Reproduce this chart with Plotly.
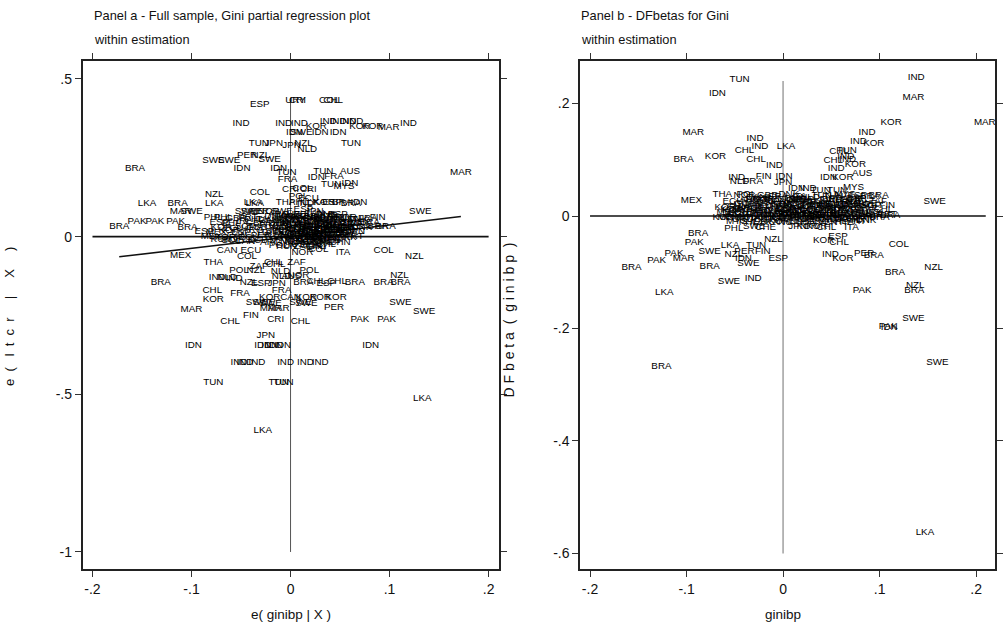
import numpy as np
import plotly.graph_objects as go

SANS = "Liberation Sans Narrow, Arial Narrow, Liberation Sans, Arial, sans-serif"

# ---------------- Panel a : partial regression plot (e(ltcr|X) vs e(ginibp|X)) -------------
a_top = [
    ("ESP", -0.031, 0.418), ("URY", 0.005, 0.430), ("CRI", 0.007, 0.430), ("COL", 0.039, 0.430),
    ("CHL", 0.043, 0.430), ("IND", -0.050, 0.360), ("IND", -0.007, 0.360), ("IND", 0.009, 0.360),
    ("KOR", 0.026, 0.348), ("IND", 0.038, 0.364), ("IND", 0.048, 0.364), ("IND", 0.058, 0.364),
    ("IND", 0.065, 0.364), ("KOR", 0.070, 0.348), ("KOR", 0.083, 0.348), ("MAR", 0.099, 0.345),
    ("IND", 0.119, 0.360), ("IDN", 0.004, 0.329), ("SWE", 0.011, 0.329), ("IDN", 0.030, 0.329),
    ("IDN", 0.048, 0.329), ("TUN", -0.032, 0.294), ("JPN", -0.017, 0.294), ("JPN", 0.001, 0.288),
    ("NZL", 0.013, 0.294), ("NLD", 0.017, 0.275), ("TUN", 0.061, 0.294),
]
a_upper = [
    ("BRA", -0.157, 0.215), ("SWE", -0.078, 0.240), ("SWE", -0.062, 0.240), ("PER", -0.044, 0.256),
    ("NZL", -0.030, 0.256), ("SWE", -0.021, 0.243), ("IDN", -0.049, 0.215), ("IDN", -0.012, 0.215),
    ("TUN", -0.004, 0.202), ("FRA", -0.003, 0.180), ("TUN", 0.033, 0.205), ("AUS", 0.060, 0.205),
    ("IDN", 0.026, 0.186), ("FRA", 0.044, 0.192), ("TUN", 0.041, 0.164), ("MYS", 0.054, 0.158),
    ("IDN", 0.060, 0.167), ("MAR", 0.172, 0.202), ("CRI", 0.000, 0.148), ("COL", 0.012, 0.154),
    ("CRI", 0.018, 0.148), ("COL", -0.031, 0.139), ("NZL", -0.077, 0.135), ("LKA", -0.077, 0.104),
    ("POL", 0.008, 0.126), ("ECU", 0.018, 0.120), ("LKA", -0.145, 0.104), ("BRA", -0.114, 0.104),
    ("MAR", -0.111, 0.081), ("SWE", -0.100, 0.081), ("LKA", -0.038, 0.107), ("LKA", -0.036, 0.104),
    ("SWE", -0.045, 0.081), ("SWE", -0.039, 0.081), ("PER", -0.032, 0.078), ("NOR", -0.022, 0.078),
    ("SWE", -0.009, 0.078), ("THA", -0.005, 0.107), ("PHL", 0.008, 0.107), ("IND", 0.015, 0.104),
    ("LKA", 0.026, 0.107), ("KOR", 0.034, 0.107), ("ESP", 0.042, 0.107), ("BRA", 0.052, 0.107),
    ("BRA", 0.061, 0.104), ("IDN", 0.069, 0.107), ("JPN", 0.024, 0.078), ("ESP", 0.013, 0.085),
    ("SWE", 0.131, 0.081), ("FIN", 0.088, 0.059), ("BRA", -0.173, 0.031), ("PAK", -0.155, 0.047),
    ("PAK", -0.137, 0.047), ("PAK", -0.116, 0.047), ("BRA", -0.104, 0.028), ("PHL", -0.078, 0.059),
    ("PHL", -0.037, 0.053), ("BRA", 0.088, 0.031), ("BRA", 0.096, 0.031), ("PRT", 0.064, 0.000),
]
a_core = [
    ("PHL", -0.068, 0.060), ("GBR", -0.055, 0.058), ("PRT", -0.043, 0.062), ("ITA", -0.030, 0.055),
    ("DNK", -0.016, 0.065), ("USA", -0.004, 0.060), ("HKG", 0.006, 0.063), ("SGP", 0.016, 0.057),
    ("NLD", 0.026, 0.061), ("AUT", 0.036, 0.066), ("BEL", 0.046, 0.059), ("NOR", 0.056, 0.062),
    ("DNK", 0.068, 0.055), ("FRA", 0.078, 0.058),
    ("ESP", -0.072, 0.045), ("PHL", -0.060, 0.040), ("IRL", -0.047, 0.048), ("GBR", -0.035, 0.043),
    ("CAN", -0.022, 0.050), ("FIN", -0.010, 0.046), ("JPN", -0.001, 0.042), ("AUS", 0.009, 0.049),
    ("USA", 0.018, 0.044), ("DEU", 0.027, 0.047), ("BEL", 0.035, 0.041), ("ITA", 0.044, 0.050),
    ("NZL", 0.053, 0.043), ("SWE", 0.062, 0.046), ("DNK", 0.071, 0.041), ("BRA", 0.080, 0.044),
    ("KOR", -0.070, 0.030), ("ECU", -0.058, 0.026), ("SGP", -0.046, 0.033), ("GBR", -0.034, 0.028),
    ("FRA", -0.022, 0.035), ("NLD", -0.012, 0.031), ("AUT", -0.003, 0.027), ("CAN", 0.005, 0.034),
    ("ESP", 0.013, 0.029), ("JPN", 0.021, 0.032), ("USA", 0.029, 0.026), ("IRL", 0.037, 0.035),
    ("PRT", 0.045, 0.030), ("NOR", 0.054, 0.028), ("HKG", 0.063, 0.033), ("DNK", 0.072, 0.029),
    ("MEX", -0.075, 0.012), ("KOR", -0.062, 0.018), ("ESP", -0.050, 0.014), ("ARG", -0.038, 0.020),
    ("ITA", -0.026, 0.013), ("BEL", -0.016, 0.017), ("DEU", -0.006, 0.012), ("FIN", 0.002, 0.019),
    ("AUS", 0.010, 0.015), ("NLD", 0.018, 0.020), ("GBR", 0.026, 0.013), ("FRA", 0.034, 0.018),
    ("CAN", 0.042, 0.014), ("SWE", 0.050, 0.019), ("USA", 0.058, 0.012), ("JPN", 0.066, 0.016),
    ("KOR", -0.066, -0.002), ("CAN", -0.054, 0.003), ("ECU", -0.042, -0.004), ("PER", -0.030, 0.002),
    ("THA", -0.018, -0.003), ("CHL", -0.008, 0.004), ("MYS", 0.001, -0.001), ("IDN", 0.009, 0.003),
    ("AUS", 0.017, -0.004), ("NOR", 0.025, 0.001), ("DNK", 0.033, -0.002), ("ITA", 0.041, 0.004),
    ("KOR", 0.049, -0.003),
    ("COL", -0.060, -0.012), ("CAN", -0.046, -0.016), ("ECU", -0.033, -0.011), ("ARG", -0.020, -0.018),
    ("MAR", -0.010, -0.013), ("NGA", 0.000, -0.017), ("HKG", 0.008, -0.010), ("SGP", 0.016, -0.015),
    ("ISR", 0.024, -0.012), ("GRC", 0.032, -0.018), ("VEN", 0.040, -0.014),
    ("POL", -0.012, -0.027), ("HUN", -0.004, -0.031), ("AUS", 0.004, -0.025), ("ZAF", 0.012, -0.030),
    ("CHN", 0.020, -0.028), ("URY", 0.028, -0.032), ("CHL", 0.036, -0.026),
    ("NZL", 0.003, 0.052), ("ITA", 0.011, 0.038), ("FRA", 0.019, 0.024), ("GBR", 0.027, 0.010),
    ("USA", 0.035, 0.055), ("BEL", 0.043, 0.020), ("NOR", 0.000, 0.008), ("JPN", 0.014, 0.000),
    ("AUS", 0.030, 0.042), ("DNK", 0.046, 0.035), ("CAN", 0.022, 0.057), ("ESP", 0.008, 0.025),
    ("FIN", 0.038, 0.005), ("SWE", 0.052, 0.028), ("IRL", -0.006, 0.038), ("NLD", 0.018, 0.012),
    ("KOR", 0.026, -0.008), ("CHL", 0.040, -0.012), ("MEX", 0.005, -0.015), ("PRT", 0.033, 0.022),
]
a_core2 = [
    ("ARG", -0.012, 0.070), ("AUS", 0.000, 0.071), ("BEL", 0.012, 0.069), ("CAN", 0.024, 0.072),
    ("DNK", 0.036, 0.070), ("ESP", 0.048, 0.071),
    ("FIN", -0.008, 0.063), ("FRA", 0.004, 0.061), ("GBR", 0.016, 0.064), ("IRL", 0.028, 0.062),
    ("ITA", 0.040, 0.063), ("JPN", 0.052, 0.061),
    ("NLD", -0.014, 0.052), ("NOR", -0.002, 0.053), ("NZL", 0.010, 0.051), ("PRT", 0.022, 0.052),
    ("SWE", 0.034, 0.054), ("USA", 0.046, 0.051), ("AUT", 0.058, 0.053),
    ("DEU", -0.012, 0.040), ("HKG", 0.024, 0.039), ("SGP", 0.036, 0.041), ("ISR", 0.048, 0.039),
    ("GRC", 0.060, 0.040),
    ("KOR", -0.008, 0.030), ("MYS", 0.009, 0.031), ("THA", 0.017, 0.029), ("PHL", 0.033, 0.030),
    ("IDN", 0.041, 0.031), ("CHL", 0.058, 0.029),
    ("MEX", -0.010, 0.020), ("COL", 0.006, 0.021), ("ECU", 0.022, 0.019), ("PER", 0.030, 0.021),
    ("URY", 0.046, 0.020), ("VEN", 0.054, 0.019),
    ("ZAF", -0.004, 0.008), ("NGA", 0.010, 0.007), ("GHA", 0.021, 0.009), ("TUN", 0.034, 0.008),
    ("MAR", 0.045, 0.007), ("EGY", 0.055, 0.009),
    ("POL", 0.005, -0.005), ("HUN", 0.020, -0.004), ("CZE", 0.030, -0.006), ("IND", 0.045, -0.005),
    ("PAK", 0.057, -0.004),
    ("LKA", 0.010, -0.018), ("BRA", 0.022, -0.019), ("CRI", 0.032, -0.017), ("CHN", 0.050, -0.018),
]
a_lower = [
    ("MEX", -0.111, -0.061), ("KOR", -0.070, -0.010), ("KOR", -0.057, -0.010), ("MEX", -0.080, 0.000),
    ("ESP", -0.087, 0.015), ("CAN", -0.064, -0.045), ("ECU", -0.040, -0.045), ("THA", -0.078, -0.083),
    ("COL", -0.044, -0.064), ("ZAF", -0.032, -0.096), ("CHL", -0.017, -0.083), ("CHL", -0.015, -0.087),
    ("ZAF", 0.006, -0.083), ("NOR", 0.012, -0.052), ("CHL", 0.025, -0.033), ("COL", 0.028, -0.042),
    ("ITA", 0.053, -0.049), ("COL", 0.094, -0.045), ("NZL", 0.125, -0.064), ("POL", -0.052, -0.109),
    ("NZL", -0.035, -0.109), ("NLD", -0.010, -0.112), ("POL", 0.019, -0.106), ("IND", -0.074, -0.131),
    ("NLD", -0.064, -0.131), ("IND", -0.057, -0.134), ("NZL", -0.042, -0.147), ("ESP", -0.030, -0.150),
    ("JPN", -0.014, -0.150), ("NLD", -0.009, -0.128), ("AUS", 0.001, -0.128), ("NOR", 0.008, -0.122),
    ("BRA", 0.013, -0.147), ("CHL", 0.026, -0.144), ("ESP", 0.036, -0.150), ("CHL", 0.047, -0.141),
    ("BRA", 0.065, -0.147), ("BRA", 0.094, -0.147), ("BRA", 0.111, -0.147), ("NZL", 0.110, -0.125),
    ("BRA", -0.131, -0.147), ("CHL", -0.079, -0.172), ("KOR", -0.078, -0.198), ("FRA", -0.051, -0.179),
    ("FRA", -0.009, -0.172), ("KOR", -0.021, -0.194), ("CAN", 0.000, -0.194), ("KOR", 0.016, -0.194),
    ("KOR", 0.030, -0.194), ("KOR", 0.046, -0.194), ("SWE", -0.034, -0.210), ("SWE", -0.027, -0.210),
    ("SWE", -0.020, -0.213), ("SWE", 0.010, -0.210), ("SWE", 0.016, -0.213), ("MAR", -0.020, -0.229),
    ("MAR", -0.012, -0.229), ("MAR", -0.100, -0.232), ("PER", 0.044, -0.226), ("SWE", 0.111, -0.210),
    ("SWE", 0.135, -0.239), ("PAK", 0.070, -0.264), ("PAK", 0.097, -0.264), ("CHL", -0.061, -0.270),
    ("FIN", -0.040, -0.251), ("CRI", -0.015, -0.264), ("CHL", 0.010, -0.270), ("JPN", -0.025, -0.315),
    ("IDN", -0.098, -0.347), ("IDN", -0.028, -0.347), ("IDN", -0.021, -0.347), ("IDN", -0.016, -0.347),
    ("IDN", -0.008, -0.347), ("IDN", 0.081, -0.347), ("IND", -0.052, -0.398), ("IND", -0.046, -0.398),
    ("IND", -0.034, -0.398), ("IND", -0.005, -0.398), ("IND", 0.015, -0.398), ("IND", 0.030, -0.398),
    ("TUN", -0.078, -0.464), ("TUN", -0.012, -0.464), ("TUN", -0.007, -0.464), ("LKA", 0.133, -0.515),
    ("LKA", -0.028, -0.616),
]
a_slope = 0.37   # fitted partial-regression slope

# ---------------- Panel b : DFbetas for Gini vs ginibp ----------------
b_outer = [
    ("TUN", -0.045, 0.242), ("IDN", -0.068, 0.217), ("IND", 0.138, 0.247), ("MAR", 0.135, 0.210),
    ("KOR", 0.112, 0.167), ("MAR", 0.209, 0.167), ("MAR", -0.093, 0.148), ("IND", -0.029, 0.137),
    ("IND", -0.024, 0.123), ("LKA", 0.003, 0.123), ("CHL", -0.040, 0.116), ("CHL", -0.028, 0.100),
    ("IND", -0.009, 0.089), ("BRA", -0.103, 0.100), ("KOR", -0.070, 0.105), ("IND", 0.087, 0.148),
    ("IND", 0.078, 0.133), ("KOR", 0.094, 0.128), ("CHL", 0.058, 0.114), ("TUN", 0.066, 0.117),
    ("IND", 0.065, 0.105), ("CHL", 0.052, 0.098), ("IND", 0.067, 0.101), ("KOR", 0.075, 0.092),
    ("IND", 0.055, 0.084), ("AUS", 0.082, 0.075), ("IDN", 0.047, 0.068), ("KOR", 0.062, 0.068),
    ("IND", -0.048, 0.068), ("FIN", -0.020, 0.071), ("IDN", 0.001, 0.071), ("NLD", -0.045, 0.062),
    ("FRA", -0.031, 0.062), ("JPN", 0.000, 0.059), ("MEX", -0.095, 0.027), ("THA", -0.063, 0.039),
    ("POL", -0.038, 0.039), ("SWE", 0.157, 0.025), ("FIN", 0.108, 0.018), ("BRA", 0.099, 0.036),
    ("BRA", 0.111, 0.000), ("IDN", 0.014, 0.049), ("IND", 0.026, 0.048), ("TUN", 0.039, 0.046),
    ("TUN", 0.056, 0.046), ("MYS", 0.073, 0.051), ("ESP", 0.077, 0.036),
]
b_lower = [
    ("PHL", -0.051, -0.023), ("BRA", -0.088, -0.032), ("PAK", -0.092, -0.048), ("PAK", -0.113, -0.066),
    ("PAK", -0.131, -0.080), ("BRA", -0.157, -0.091), ("MAR", -0.103, -0.076), ("SWE", -0.076, -0.064),
    ("LKA", -0.055, -0.053), ("NZL", -0.051, -0.068), ("PER", -0.040, -0.064), ("TUN", -0.028, -0.053),
    ("FIN", -0.021, -0.064), ("IDN", -0.041, -0.075), ("SWE", -0.036, -0.085), ("BRA", -0.076, -0.089),
    ("ESP", -0.005, -0.076), ("NZL", -0.010, -0.041), ("SWE", -0.056, -0.117), ("IND", -0.031, -0.112),
    ("LKA", -0.123, -0.137), ("ITA", 0.071, -0.020), ("KOR", 0.042, -0.044), ("ESP", 0.057, -0.036),
    ("CHL", 0.058, -0.048), ("IND", 0.049, -0.068), ("KOR", 0.062, -0.075), ("PER", 0.084, -0.066),
    ("BRA", 0.094, -0.071), ("COL", 0.120, -0.050), ("BRA", 0.116, -0.101), ("NZL", 0.156, -0.092),
    ("NZL", 0.137, -0.123), ("BRA", 0.136, -0.132), ("PAK", 0.082, -0.133), ("SWE", 0.135, -0.183),
    ("PAK", 0.109, -0.196), ("IDN", 0.110, -0.199), ("SWE", 0.160, -0.261), ("BRA", -0.126, -0.268),
    ("LKA", 0.147, -0.562), ("KOR", -0.054, 0.012), ("MEX", -0.057, -0.002),
]
b_core = [
    ("NOR", -0.040, 0.036), ("CAN", -0.028, 0.033), ("GBR", -0.016, 0.037), ("FRA", -0.005, 0.034),
    ("DNK", 0.006, 0.038), ("ITA", 0.017, 0.035), ("NLD", 0.028, 0.032), ("TUN", 0.040, 0.037),
    ("TUN", 0.052, 0.034), ("MYS", 0.064, 0.038), ("ESP", 0.076, 0.031), ("BRA", 0.090, 0.034),
    ("ECU", -0.052, 0.025), ("COL", -0.040, 0.022), ("HKG", -0.028, 0.027), ("USA", -0.017, 0.024),
    ("JPN", -0.006, 0.026), ("AUS", 0.004, 0.023), ("DEU", 0.014, 0.027), ("SGP", 0.024, 0.024),
    ("BEL", 0.034, 0.026), ("IRL", 0.044, 0.022), ("AUT", 0.054, 0.027), ("PRT", 0.064, 0.024),
    ("NZL", 0.074, 0.026), ("SWE", 0.086, 0.022), ("ZAF", 0.098, 0.025),
    ("KOR", -0.060, 0.015), ("CHL", -0.048, 0.017), ("ARG", -0.037, 0.013), ("GBR", -0.026, 0.016),
    ("CAN", -0.016, 0.014), ("FIN", -0.006, 0.017), ("ESP", 0.003, 0.013), ("NLD", 0.012, 0.016),
    ("FRA", 0.021, 0.014), ("USA", 0.030, 0.017), ("ITA", 0.039, 0.013), ("DNK", 0.048, 0.016),
    ("NOR", 0.057, 0.014), ("JPN", 0.067, 0.017), ("KOR", 0.078, 0.013), ("PHL", 0.090, 0.015),
    ("CHL", 0.104, 0.012),
    ("MEX", -0.058, 0.006), ("ECU", -0.046, 0.004), ("PER", -0.035, 0.007), ("THA", -0.024, 0.005),
    ("MYS", -0.014, 0.008), ("AUS", -0.004, 0.004), ("BEL", 0.005, 0.007), ("SWE", 0.014, 0.005),
    ("DEU", 0.023, 0.008), ("HKG", 0.032, 0.004), ("SGP", 0.041, 0.006), ("IRL", 0.050, 0.008),
    ("GBR", 0.059, 0.005), ("AUT", 0.069, 0.007), ("COL", 0.080, 0.004), ("URY", 0.092, 0.006),
    ("PRT", 0.108, 0.003),
    ("KOR", -0.062, -0.002), ("CAN", -0.050, -0.001), ("POL", -0.038, -0.003), ("HUN", -0.027, 0.000),
    ("CHL", -0.016, -0.002), ("IND", -0.006, -0.001), ("ZAF", 0.004, -0.003), ("NOR", 0.013, 0.000),
    ("CAN", 0.022, -0.002), ("ITA", 0.031, -0.001), ("FRA", 0.040, -0.003), ("JPN", 0.049, 0.000),
    ("NZL", 0.058, -0.002), ("USA", 0.067, -0.001), ("KOR", 0.076, -0.003), ("PRT", 0.088, -0.001),
    ("BRA", 0.100, -0.002),
    ("MYS", -0.048, -0.010), ("PHL", -0.036, -0.012), ("IDN", -0.025, -0.009), ("LKA", -0.014, -0.011),
    ("KOR", -0.004, -0.010), ("NGA", 0.006, -0.012), ("ESP", 0.016, -0.009), ("ISR", 0.026, -0.011),
    ("GRC", 0.036, -0.010), ("VEN", 0.046, -0.012), ("CHL", 0.056, -0.009), ("ITA", 0.066, -0.011),
    ("PRT", 0.076, -0.010), ("DNK", 0.086, -0.008),
    ("SWE", -0.030, -0.019), ("CHE", -0.018, -0.020), ("JPN", 0.015, -0.018), ("KOR", 0.025, -0.019),
    ("KOR", 0.035, -0.018), ("CHL", 0.045, -0.020),
    ("FRA", 0.000, 0.020), ("GBR", 0.010, 0.010), ("USA", 0.020, 0.030), ("NLD", 0.030, 0.000),
    ("AUS", 0.040, 0.020), ("BEL", 0.050, 0.030), ("ITA", 0.060, 0.010), ("CAN", 0.070, 0.020),
    ("DNK", -0.010, 0.010), ("NOR", -0.020, 0.030), ("ESP", 0.035, 0.010), ("JPN", 0.045, 0.000),
    ("AUT", 0.055, 0.020), ("IRL", 0.025, 0.020), ("FIN", 0.015, 0.030),
]
b_core2 = [
    ("ARG", -0.034, 0.030), ("AUS", -0.022, 0.031), ("BEL", -0.010, 0.029), ("CAN", 0.002, 0.030),
    ("DNK", 0.012, 0.031), ("ESP", 0.022, 0.029), ("FIN", 0.046, 0.030), ("FRA", 0.058, 0.031),
    ("GBR", 0.070, 0.029), ("IRL", 0.082, 0.030),
    ("ITA", -0.044, 0.020), ("JPN", -0.032, 0.021), ("NLD", -0.021, 0.019), ("NOR", -0.001, 0.020),
    ("NZL", 0.009, 0.021), ("PRT", 0.029, 0.019), ("SWE", 0.039, 0.020), ("USA", 0.049, 0.021),
    ("AUT", 0.059, 0.019), ("DEU", 0.069, 0.020), ("HKG", 0.079, 0.021), ("SGP", 0.091, 0.019),
    ("KOR", -0.052, 0.010), ("MYS", -0.042, 0.011), ("THA", -0.030, 0.009), ("PHL", -0.020, 0.010),
    ("IDN", -0.001, 0.011), ("CHL", 0.007, 0.009), ("MEX", 0.017, 0.010), ("COL", 0.027, 0.011),
    ("ECU", 0.044, 0.009), ("PER", 0.053, 0.010), ("URY", 0.063, 0.011), ("VEN", 0.073, 0.009),
    ("ZAF", 0.085, 0.010),
    ("NGA", -0.047, 0.002), ("GHA", -0.032, 0.003), ("TUN", -0.020, 0.001), ("MAR", -0.009, 0.002),
    ("EGY", 0.001, 0.003), ("POL", 0.009, 0.001), ("HUN", 0.018, 0.002), ("CZE", 0.027, 0.003),
    ("IND", 0.036, 0.001), ("PAK", 0.045, 0.002), ("LKA", 0.054, 0.003), ("BRA", 0.063, 0.001),
    ("CRI", 0.072, 0.002), ("CHN", 0.082, 0.003), ("ISR", 0.095, 0.001),
    ("GRC", -0.042, -0.006), ("ITA", -0.030, -0.005), ("ESP", -0.020, -0.007), ("FRA", -0.010, -0.006),
    ("USA", 0.000, -0.005), ("CAN", 0.011, -0.007), ("AUS", 0.021, -0.006), ("JPN", 0.031, -0.005),
    ("KOR", 0.041, -0.007), ("NLD", 0.051, -0.006), ("BEL", 0.061, -0.005), ("CHL", 0.071, -0.007),
    ("PRT", 0.081, -0.006),
]

a_xticks = [-0.2, -0.1, 0, 0.1, 0.2]
a_xticklabels = ["-.2", "-.1", "0", ".1", ".2"]
a_yticks = [0.5, 0, -0.5, -1]
a_yticklabels = [".5", "0", "-.5", "-1"]
b_xticks = [-0.2, -0.1, 0, 0.1, 0.2]
b_xticklabels = ["-.2", "-.1", "0", ".1", ".2"]
b_yticks = [0.2, 0, -0.2, -0.4, -0.6]
b_yticklabels = [".2", "0", "-.2", "-.4", "-.6"]

a_pts = a_top + a_upper + a_core + a_core2 + a_lower
b_pts = b_outer + b_core + b_core2 + b_lower


def unzip(pts):
    return [p[0] for p in pts], [p[1] for p in pts], [p[2] for p in pts]


a_lab, a_x, a_y = unzip(a_pts)
b_lab, b_x, b_y = unzip(b_pts)

LABEL_FONT = dict(family=SANS, size=9.8, color="#000000")

fig = go.Figure()

# reference lines panel a
fig.add_trace(go.Scatter(x=[0, 0], y=[0.44, -1.0], mode="lines",
                         line=dict(color="#555555", width=1), hoverinfo="skip",
                         xaxis="x", yaxis="y", showlegend=False))
fig.add_trace(go.Scatter(x=[-0.2, 0.2], y=[0, 0], mode="lines",
                         line=dict(color="#111111", width=1.6), hoverinfo="skip",
                         xaxis="x", yaxis="y", showlegend=False))
xl = np.array([min(a_x), max(a_x)])
fig.add_trace(go.Scatter(x=xl, y=a_slope * xl, mode="lines",
                         line=dict(color="#111111", width=1.6), hoverinfo="skip",
                         xaxis="x", yaxis="y", showlegend=False))
fig.add_trace(go.Scatter(x=a_x, y=a_y, text=a_lab, mode="text", textfont=LABEL_FONT,
                         textposition="middle center", cliponaxis=False,
                         xaxis="x", yaxis="y", showlegend=False))

# reference lines panel b
fig.add_trace(go.Scatter(x=[0, 0], y=[0.24, -0.6], mode="lines",
                         line=dict(color="#999999", width=1.4), hoverinfo="skip",
                         xaxis="x2", yaxis="y2", showlegend=False))
fig.add_trace(go.Scatter(x=[-0.2, 0.21], y=[0, 0], mode="lines",
                         line=dict(color="#111111", width=1.6), hoverinfo="skip",
                         xaxis="x2", yaxis="y2", showlegend=False))
fig.add_trace(go.Scatter(x=b_x, y=b_y, text=b_lab, mode="text", textfont=LABEL_FONT,
                         textposition="middle center", cliponaxis=False,
                         xaxis="x2", yaxis="y2", showlegend=False))

TICKFONT = dict(family=SANS, size=14, color="#111111")
common = dict(showline=True, linecolor="#222222", linewidth=1.5, mirror="ticks",
              ticks="outside", ticklen=6, tickwidth=1.3, tickcolor="#333333",
              showgrid=False, zeroline=False, tickfont=TICKFONT, tickmode="array")

W, H = 1003, 631
ydom = [(H - 569) / H, (H - 61) / H]

fig.update_layout(
    width=W, height=H, margin=dict(l=0, r=0, t=0, b=0),
    paper_bgcolor="white", plot_bgcolor="white",
    xaxis=dict(domain=[83 / W, 502 / W], range=[-0.210, 0.211],
               tickvals=a_xticks, ticktext=a_xticklabels, anchor="y", **common),
    yaxis=dict(domain=ydom, range=[-1.054, 0.557],
               tickvals=a_yticks, ticktext=a_yticklabels, anchor="x", **common),
    xaxis2=dict(domain=[583 / W, 1000 / W], range=[-0.2103, 0.2196],
                tickvals=b_xticks, ticktext=b_xticklabels, anchor="y2", **common),
    yaxis2=dict(domain=ydom, range=[-0.6276, 0.2756],
                tickvals=b_yticks, ticktext=b_yticklabels, anchor="x2", **common),
)

TITLEFONT = dict(family=SANS, size=12.8, color="#111111")
AXFONT = dict(family=SANS, size=13.5, color="#111111")
ann = [
    dict(text="Panel a - Full sample, Gini partial regression plot", x=92 / W, y=(H - 16) / H,
         xanchor="left", yanchor="middle", font=TITLEFONT),
    dict(text="within estimation", x=92 / W, y=(H - 39) / H,
         xanchor="left", yanchor="middle", font=TITLEFONT),
    dict(text="Panel b - DFbetas for Gini", x=582 / W, y=(H - 16) / H,
         xanchor="left", yanchor="middle", font=TITLEFONT),
    dict(text="within estimation", x=582 / W, y=(H - 39) / H,
         xanchor="left", yanchor="middle", font=TITLEFONT),
    dict(text="e( ginibp | X )", x=292 / W, y=(H - 614) / H,
         xanchor="center", yanchor="middle", font=AXFONT),
    dict(text="ginibp", x=787 / W, y=(H - 614) / H,
         xanchor="center", yanchor="middle", font=AXFONT),
    dict(text="e  (   l  t  c  r     |     X     )", x=9 / W, y=(H - 316) / H, textangle=-90,
         xanchor="center", yanchor="middle",
         font=dict(family="Liberation Sans, Arial", size=13, color="#111111")),
    dict(text="D F b e t a  (  g i n i b p  )", x=512 / W, y=(H - 320) / H, textangle=-90,
         xanchor="center", yanchor="middle",
         font=dict(family="Liberation Sans, Arial", size=14, color="#111111")),
]
for a in ann:
    a.update(xref="paper", yref="paper", showarrow=False)
fig.update_layout(annotations=ann)

fig.write_html("out.html", config={"displayModeBar": False},
               post_script="document.body.style.margin='0px';")
